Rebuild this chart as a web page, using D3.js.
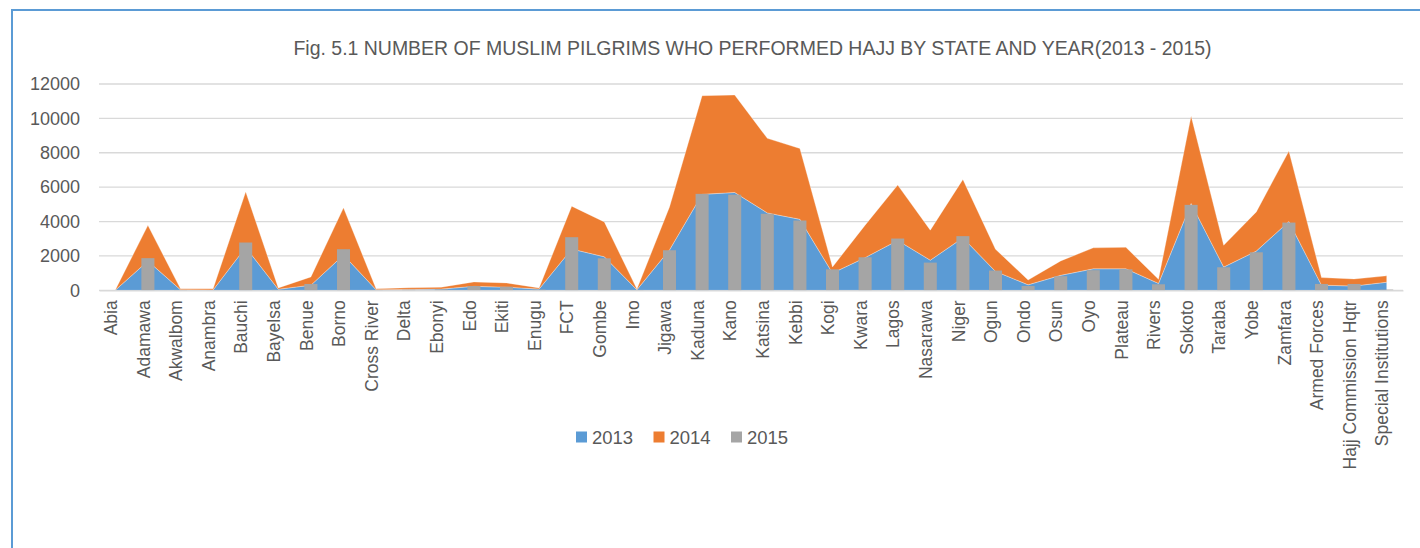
<!DOCTYPE html>
<html>
<head>
<meta charset="utf-8">
<script src="https://cdn.jsdelivr.net/npm/d3@7"></script>
<style>
  body { margin: 0; background: #fff; }
  text { font-family: "Liberation Sans", Arial, sans-serif; fill: #595959; }
</style>
</head>
<body>
<div id="chart"></div>
<script>
// states / groups on the x axis
var states = ["Abia", "Adamawa", "Akwalbom", "Anambra", "Bauchi", "Bayelsa", "Benue", "Borno",
  "Cross River", "Delta", "Ebonyi", "Edo", "Ekiti", "Enugu", "FCT", "Gombe", "Imo", "Jigawa",
  "Kaduna", "Kano", "Katsina", "Kebbi", "Kogi", "Kwara", "Lagos", "Nasarawa", "Niger", "Ogun",
  "Ondo", "Osun", "Oyo", "Plateau", "Rivers", "Sokoto", "Taraba", "Yobe", "Zamfara",
  "Armed Forces", "Hajj Commission Hqtr", "Special Institutions"];

// pilgrims per year
var y2013 = [10, 1700, 30, 20, 2500, 60, 300, 2050, 30, 50, 70, 230, 180, 70, 2400, 1950, 30, 2350,
  5580, 5690, 4500, 4130, 1000, 1900, 2900, 1750, 3050, 1100, 320, 870, 1250, 1250, 400, 5050,
  1350, 2280, 4000, 300, 250, 470];
var y2014 = [10, 2080, 60, 70, 3230, 80, 480, 2750, 60, 100, 110, 260, 250, 70, 2490, 2030, 40, 2500,
  5740, 5670, 4340, 4120, 360, 1890, 3220, 1750, 3400, 1290, 280, 840, 1220, 1250, 240, 5090,
  1270, 2280, 4100, 440, 410, 370];
var y2015 = [0, 1870, 20, 10, 2780, 30, 370, 2390, 20, 30, 50, 250, 210, 40, 3090, 1860, 20, 2330,
  5610, 5560, 4450, 4060, 1220, 1920, 3010, 1610, 3150, 1150, 250, 820, 1170, 1220, 350, 4970,
  1340, 2210, 3940, 370, 370, 40];

var yTicks = [0, 2000, 4000, 6000, 8000, 10000, 12000];
var years = ["2013", "2014", "2015"];
var colors = { "2013": "#5B9BD5", "2014": "#ED7D31", "2015": "#A5A5A5" };
var titleText = "Fig. 5.1 NUMBER OF MUSLIM PILGRIMS WHO PERFORMED HAJJ BY STATE AND YEAR(2013 - 2015)";

var width = 1420, height = 548;
var plotL = 99, plotR = 1403, plotT = 84, plotB = 290.3;

var svg = d3.select("#chart").append("svg")
    .attr("width", width)
    .attr("height", height);

// chart frame (runs off the right and bottom edges)
svg.append("rect")
    .attr("x", 12).attr("y", 10)
    .attr("width", 1420).attr("height", 560)
    .attr("fill", "#fff")
    .attr("stroke", "#5B9BD5")
    .attr("stroke-width", 2);

var table = states.map(function(s, i) {
  return { state: s, "2013": y2013[i], "2014": y2014[i], "2015": y2015[i] };
});

var x = d3.scaleBand().domain(states).range([plotL, plotR]);
var y = d3.scaleLinear().domain([0, 12000]).range([plotB, plotT]);
var bw = x.bandwidth();
var cx = function(s) { return x(s) + bw / 2; };

// gridlines
svg.append("g").selectAll("line")
    .data(yTicks)
    .enter().append("line")
    .attr("x1", plotL).attr("x2", plotR)
    .attr("y1", function(d) { return y(d); })
    .attr("y2", function(d) { return y(d); })
    .attr("stroke", "#D9D9D9")
    .attr("stroke-width", 1.3);

// stacked areas 2013 + 2014
var stack = d3.stack().keys(["2013", "2014"]);
var layers = stack(table);
var area = d3.area()
    .x(function(d) { return cx(d.data.state); })
    .y0(function(d) { return y(d[0]); })
    .y1(function(d) { return y(d[1]); });

svg.append("g").selectAll("path")
    .data(layers)
    .enter().append("path")
    .attr("d", area)
    .attr("fill", function(d) { return colors[d.key]; })
    .attr("stroke", "#fff")
    .attr("stroke-opacity", 0.5)
    .attr("stroke-width", 0.6);

// 2015 columns
var barW = bw / 2.5;
svg.append("g").selectAll("rect")
    .data(table)
    .enter().append("rect")
    .attr("x", function(d) { return cx(d.state) - barW / 2; })
    .attr("width", barW)
    .attr("y", function(d) { return y(d["2015"]); })
    .attr("height", function(d) { return y(0) - y(d["2015"]); })
    .attr("fill", colors["2015"]);

// y axis labels
var yAxis = svg.append("g")
    .attr("transform", "translate(" + plotL + ",0)")
    .call(d3.axisLeft(y).tickValues(yTicks).tickSize(0).tickPadding(19).tickFormat(d3.format("d")));
yAxis.select(".domain").remove();
yAxis.selectAll("text").style("font-size", "18px").attr("fill", "#595959");

// x axis
var xAxis = svg.append("g")
    .attr("transform", "translate(0," + plotB + ")")
    .call(d3.axisBottom(x).tickSize(0));
xAxis.select(".domain").attr("stroke", "#D9D9D9").attr("stroke-width", 1.3);
xAxis.selectAll("text")
    .style("font-size", "17.5px")
    .attr("fill", "#595959")
    .attr("transform", "rotate(-90)")
    .attr("x", -10)
    .attr("y", 0)
    .attr("dy", "0.1em")
    .style("text-anchor", "end");

// title, sized to span the same width as the original
var title = svg.append("text")
    .attr("x", 752.5)
    .attr("y", 55)
    .attr("text-anchor", "middle")
    .style("font-size", "18px")
    .text(titleText);
var tw = title.node().getComputedTextLength();
title.style("font-size", (18 * 919 / tw) + "px");

// legend
var legend = svg.append("g").selectAll("g")
    .data(years)
    .enter().append("g")
    .attr("transform", function(d, i) { return "translate(" + (576 + i * 77.5) + ",437)"; });
legend.append("rect")
    .attr("x", 0).attr("y", -5.5)
    .attr("width", 11).attr("height", 11)
    .attr("fill", function(d) { return colors[d]; });
legend.append("text")
    .attr("x", 16)
    .attr("dy", "0.36em")
    .style("font-size", "18.5px")
    .text(function(d) { return d; });
</script>
</body>
</html>
